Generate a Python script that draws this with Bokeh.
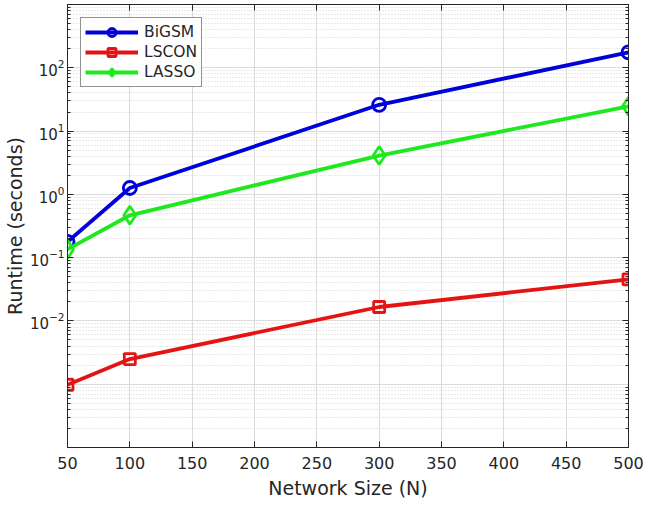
from bokeh.plotting import figure
from bokeh.models import FixedTicker, LogAxis, LinearAxis, Legend, LegendItem
from bokeh.embed import file_html
from bokeh.resources import INLINE

# ---- data ----
network_size = [50, 100, 300, 500]
bigsm = [0.178, 1.26, 26.0, 175.0]
lscon = [0.00098, 0.0025, 0.0166, 0.0454]
lasso = [0.135, 0.467, 4.1, 24.6]

x_ticks = [50, 100, 150, 200, 250, 300, 350, 400, 450, 500]
y_label_ticks = [1e-2, 1e-1, 1e0, 1e1, 1e2]
decades = [-4, -3, -2, -1, 0, 1, 2, 3]

FONT = "DejaVu Sans"
DARK = "#262626"

minor = [k * 10.0 ** d for d in decades[:-1] for k in range(2, 10)]
major_all = [10.0 ** d for d in decades]

p = figure(width=650, height=505, y_axis_type="log",
           x_range=(50, 500), y_range=(1e-4, 1e3),
           output_backend="svg", toolbar_location=None,
           min_border_left=67, min_border_right=22,
           min_border_top=4, min_border_bottom=58)
p.outline_line_color = DARK
p.outline_line_width = 1

y_ticker = FixedTicker(ticks=y_label_ticks, minor_ticks=minor)
x_ticker = FixedTicker(ticks=x_ticks)

# grids
p.xgrid.ticker = x_ticker
p.xgrid.grid_line_color = "#dcdcdc"
p.xgrid.grid_line_width = 1
p.ygrid.ticker = FixedTicker(ticks=major_all, minor_ticks=minor)
p.ygrid.grid_line_color = "#dcdcdc"
p.ygrid.grid_line_width = 1
p.ygrid.minor_grid_line_color = "#d4d4d4"
p.ygrid.minor_grid_line_dash = "1 2"
p.ygrid.minor_grid_line_width = 1

def style_axis(ax, show_labels=True):
    ax.axis_line_color = DARK
    ax.major_tick_line_color = DARK
    ax.minor_tick_line_color = DARK
    ax.major_tick_in = 6
    ax.major_tick_out = 0
    ax.minor_tick_in = 3
    ax.minor_tick_out = 0
    ax.major_label_text_font = FONT
    ax.major_label_text_color = DARK if show_labels else None
    ax.major_label_text_font_size = "16px" if show_labels else "1px"
    ax.axis_label_text_font = FONT
    ax.axis_label_text_color = DARK
    ax.axis_label_text_font_style = "normal"
    ax.axis_label_text_font_size = "19px"

# bottom x axis
xa = p.xaxis[0]
xa.ticker = x_ticker
xa.axis_label = "Network Size (N)"
style_axis(xa)
xa.minor_tick_line_color = None
xa.major_label_standoff = 9
xa.axis_label_standoff = 5

# left y axis (default log formatter: 10 with superscript exponent)
ya = p.yaxis[0]
ya.ticker = y_ticker
ya.axis_label = "Runtime (seconds)"
style_axis(ya)
ya.major_label_text_font_size = "15px"
ya.major_label_standoff = 3
ya.axis_label_standoff = 1

# top and right box axes
top = LinearAxis(ticker=x_ticker)
style_axis(top, show_labels=False)
top.minor_tick_line_color = None
top.major_label_standoff = 0
p.add_layout(top, "above")

right = LogAxis(ticker=y_ticker)
style_axis(right, show_labels=False)
right.major_label_standoff = 0
p.add_layout(right, "right")

# series
series = [
    ("BiGSM", bigsm, "#0000d8", "circle", 13),
    ("LSCON", lscon, "#e51414", "square", 11),
    ("LASSO", lasso, "#1fe81f", "diamond", 18),
]
items = []
for name, vals, color, marker, size in series:
    ln = p.line(network_size, vals, line_color=color, line_width=3.8)
    mk = p.scatter(network_size, vals, marker=marker, size=size,
                   line_color=color, line_width=2.8, fill_color=None)
    items.append(LegendItem(label=name, renderers=[ln, mk]))

legend = Legend(items=items, location="top_left")
legend.margin = 13
legend.padding = 4
legend.spacing = 0
legend.glyph_width = 53
legend.glyph_height = 20
legend.label_height = 20
legend.label_standoff = 6
legend.label_text_font = FONT
legend.label_text_font_size = "15.5px"
legend.label_text_color = DARK
legend.border_line_color = DARK
legend.border_line_width = 1
legend.background_fill_color = "white"
legend.background_fill_alpha = 1
p.add_layout(legend, "center")

open("out.html", "w").write(file_html(p, INLINE))
